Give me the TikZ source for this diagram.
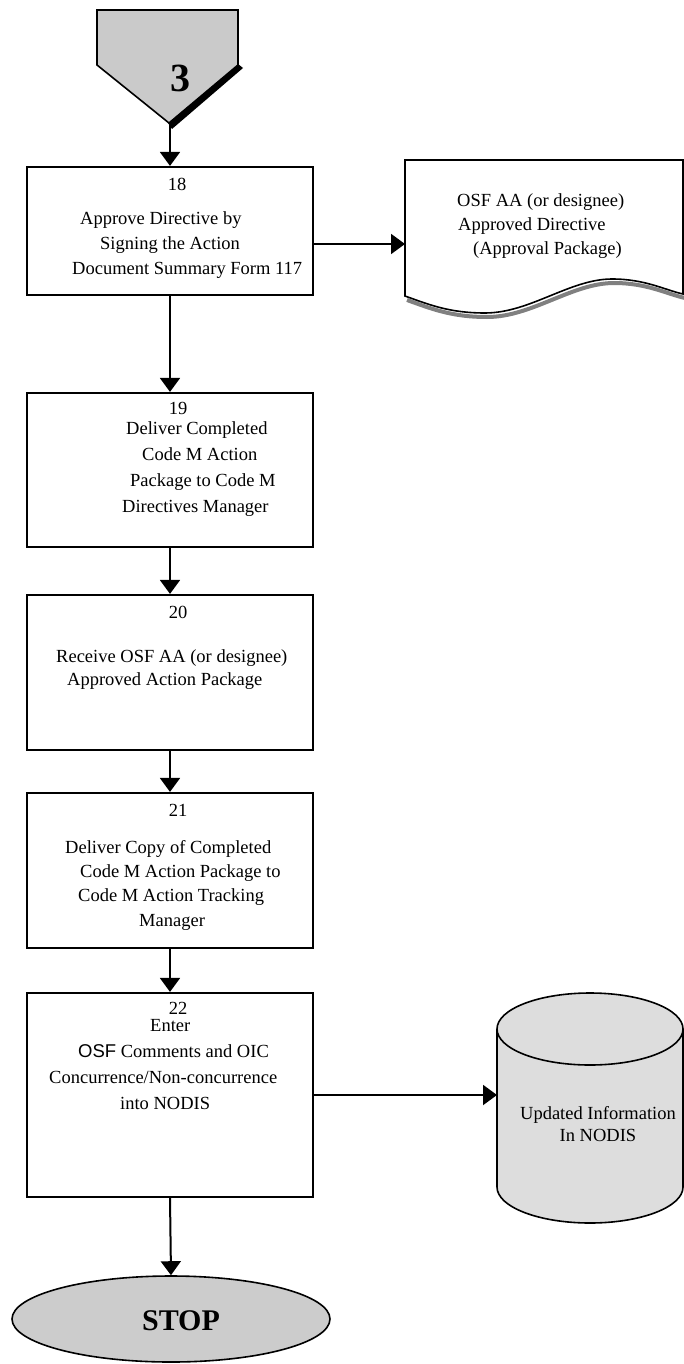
\documentclass[tikz,border=0pt]{standalone}
\usepackage{fontspec}
\setmainfont{Liberation Serif}
\newfontfamily\arialfont{Liberation Sans}
\usetikzlibrary{arrows.meta,shapes.geometric}
\definecolor{pentfill}{HTML}{CACACA}
\definecolor{stopfill}{HTML}{CCCCCC}
\definecolor{cylfill}{HTML}{DDDDDD}
\definecolor{shadowgray}{HTML}{808080}
\begin{document}
\begin{tikzpicture}[x=1pt,y=-1pt,
  box/.style={draw, line width=2.2pt, minimum width=286pt, minimum height=#1, inner sep=0pt},
  conn/.style={line width=2pt, -{Triangle[width=20pt,length=14pt]}},
  txt/.style={inner sep=0pt, align=left, anchor=north west, font=\fontsize{18.5}{#1}\selectfont},
  num/.style={inner sep=0pt, font=\fontsize{18.5}{22}\selectfont},
  outline/.style={line width=1.6pt}
]
\useasboundingbox (0,0) rectangle (684,1364);

% off-page connector
\fill (238,64) -- (243,68) -- (172,129) -- (168,123) -- cycle;
\draw[outline, fill=pentfill] (97,10) -- (238,10) -- (238,65) -- (169,123) -- (97,65) -- cycle;
\node[inner sep=0pt, font=\bfseries\fontsize{40}{40}\selectfont] (p3) at (180,78) {3};
\coordinate (ptip) at (170,123);

% boxes
\node[box=128pt] (b18) at (170,231) {};
\node[box=154pt] (b19) at (170,470) {};
\node[box=155pt] (b20) at (170,672.5) {};
\node[box=155pt] (b21) at (170,870.5) {};
\node[box=204pt] (b22) at (170,1095) {};

\node[num] (n18) at (177,184) {18};
\node[num] (n19) at (178,408) {19};
\node[num] (n20) at (178,612) {20};
\node[num] (n21) at (178,810) {21};
\node[num] (n22) at (178,1008) {22};

\node[txt=25pt] (t18) at (72,211) {\hspace*{8pt}Approve Directive by\\\hspace*{28pt}Signing the Action\\Document Summary Form 117};
\node[txt=26pt] (t19) at (122,421) {\hspace*{4pt}Deliver Completed\\\hspace*{20pt}Code M Action\\\hspace*{8pt}Package to Code M\\Directives Manager};
\node[txt=23pt] (t20) at (56,649) {Receive OSF AA (or designee)\\\hspace*{11pt}Approved Action Package};
\node[txt=24.3pt] (t21) at (65,840) {Deliver Copy of Completed\\\hspace*{15pt}Code M Action Package to\\\hspace*{13pt}Code M Action Tracking\\\hspace*{74pt}Manager};
\node[txt=26pt] (t22) at (49,1019) {\hspace*{101pt}Enter\\\hspace*{29pt}{\arialfont OSF} Comments and OIC\\Concurrence/Non-concurrence\\\hspace*{71pt}into NODIS};

% document shape
\begin{scope}[shift={(2,4)}]
\draw[line width=4pt, shadowgray] (405,296) .. controls (430,305) and (450,313) .. (485,313) .. controls (530,313) and (570,279) .. (612,279) .. controls (645,279) and (665,290) .. (683,294);
\end{scope}
\draw[outline, fill=white] (405,160) -- (683,160) -- (683,294) .. controls (665,290) and (645,279) .. (612,279) .. controls (570,279) and (530,313) .. (485,313) .. controls (450,313) and (430,305) .. (405,296) -- cycle;
\node[txt=24pt] (tdoc) at (457,193) {OSF AA (or designee)\\\hspace*{1pt}Approved Directive\\\hspace*{16pt}(Approval Package)};
\coordinate (docin) at (405,244);

% cylinder
\fill[cylfill] (497,1029) rectangle (683,1187);
\fill[cylfill] (590,1187) ellipse[x radius=93pt, y radius=36pt];
\draw[outline] (497,1029) -- (497,1187) arc[start angle=180, end angle=360, x radius=93pt, y radius=36pt] -- (683,1029);
\draw[outline, fill=cylfill] (590,1029) ellipse[x radius=93pt, y radius=36pt];
\node[inner sep=0pt, align=center, font=\fontsize{18.5}{22}\selectfont] (tdb) at (598,1124) {Updated Information\\In NODIS};
\coordinate (dbin) at (497,1095);

% stop
\node[ellipse, draw, outline, fill=stopfill, minimum width=318pt, minimum height=86pt, inner sep=0pt] (stop) at (171,1319) {};
\node[inner sep=0pt, font=\bfseries\fontsize{30}{30}\selectfont] (tstop) at (181,1321) {STOP};

% connectors
\draw[conn] (ptip) -- (b18.north);
\draw[conn] (b18.east |- docin) -- (docin);
\draw[conn] (b18.south) -- (b19.north);
\draw[conn] (b19.south) -- (b20.north);
\draw[conn] (b20.south) -- (b21.north);
\draw[conn] (b21.south) -- (b22.north);
\draw[conn] (b22.east |- dbin) -- (dbin);
\draw[conn] (b22.south) -- (stop.north);
\end{tikzpicture}
\end{document}
